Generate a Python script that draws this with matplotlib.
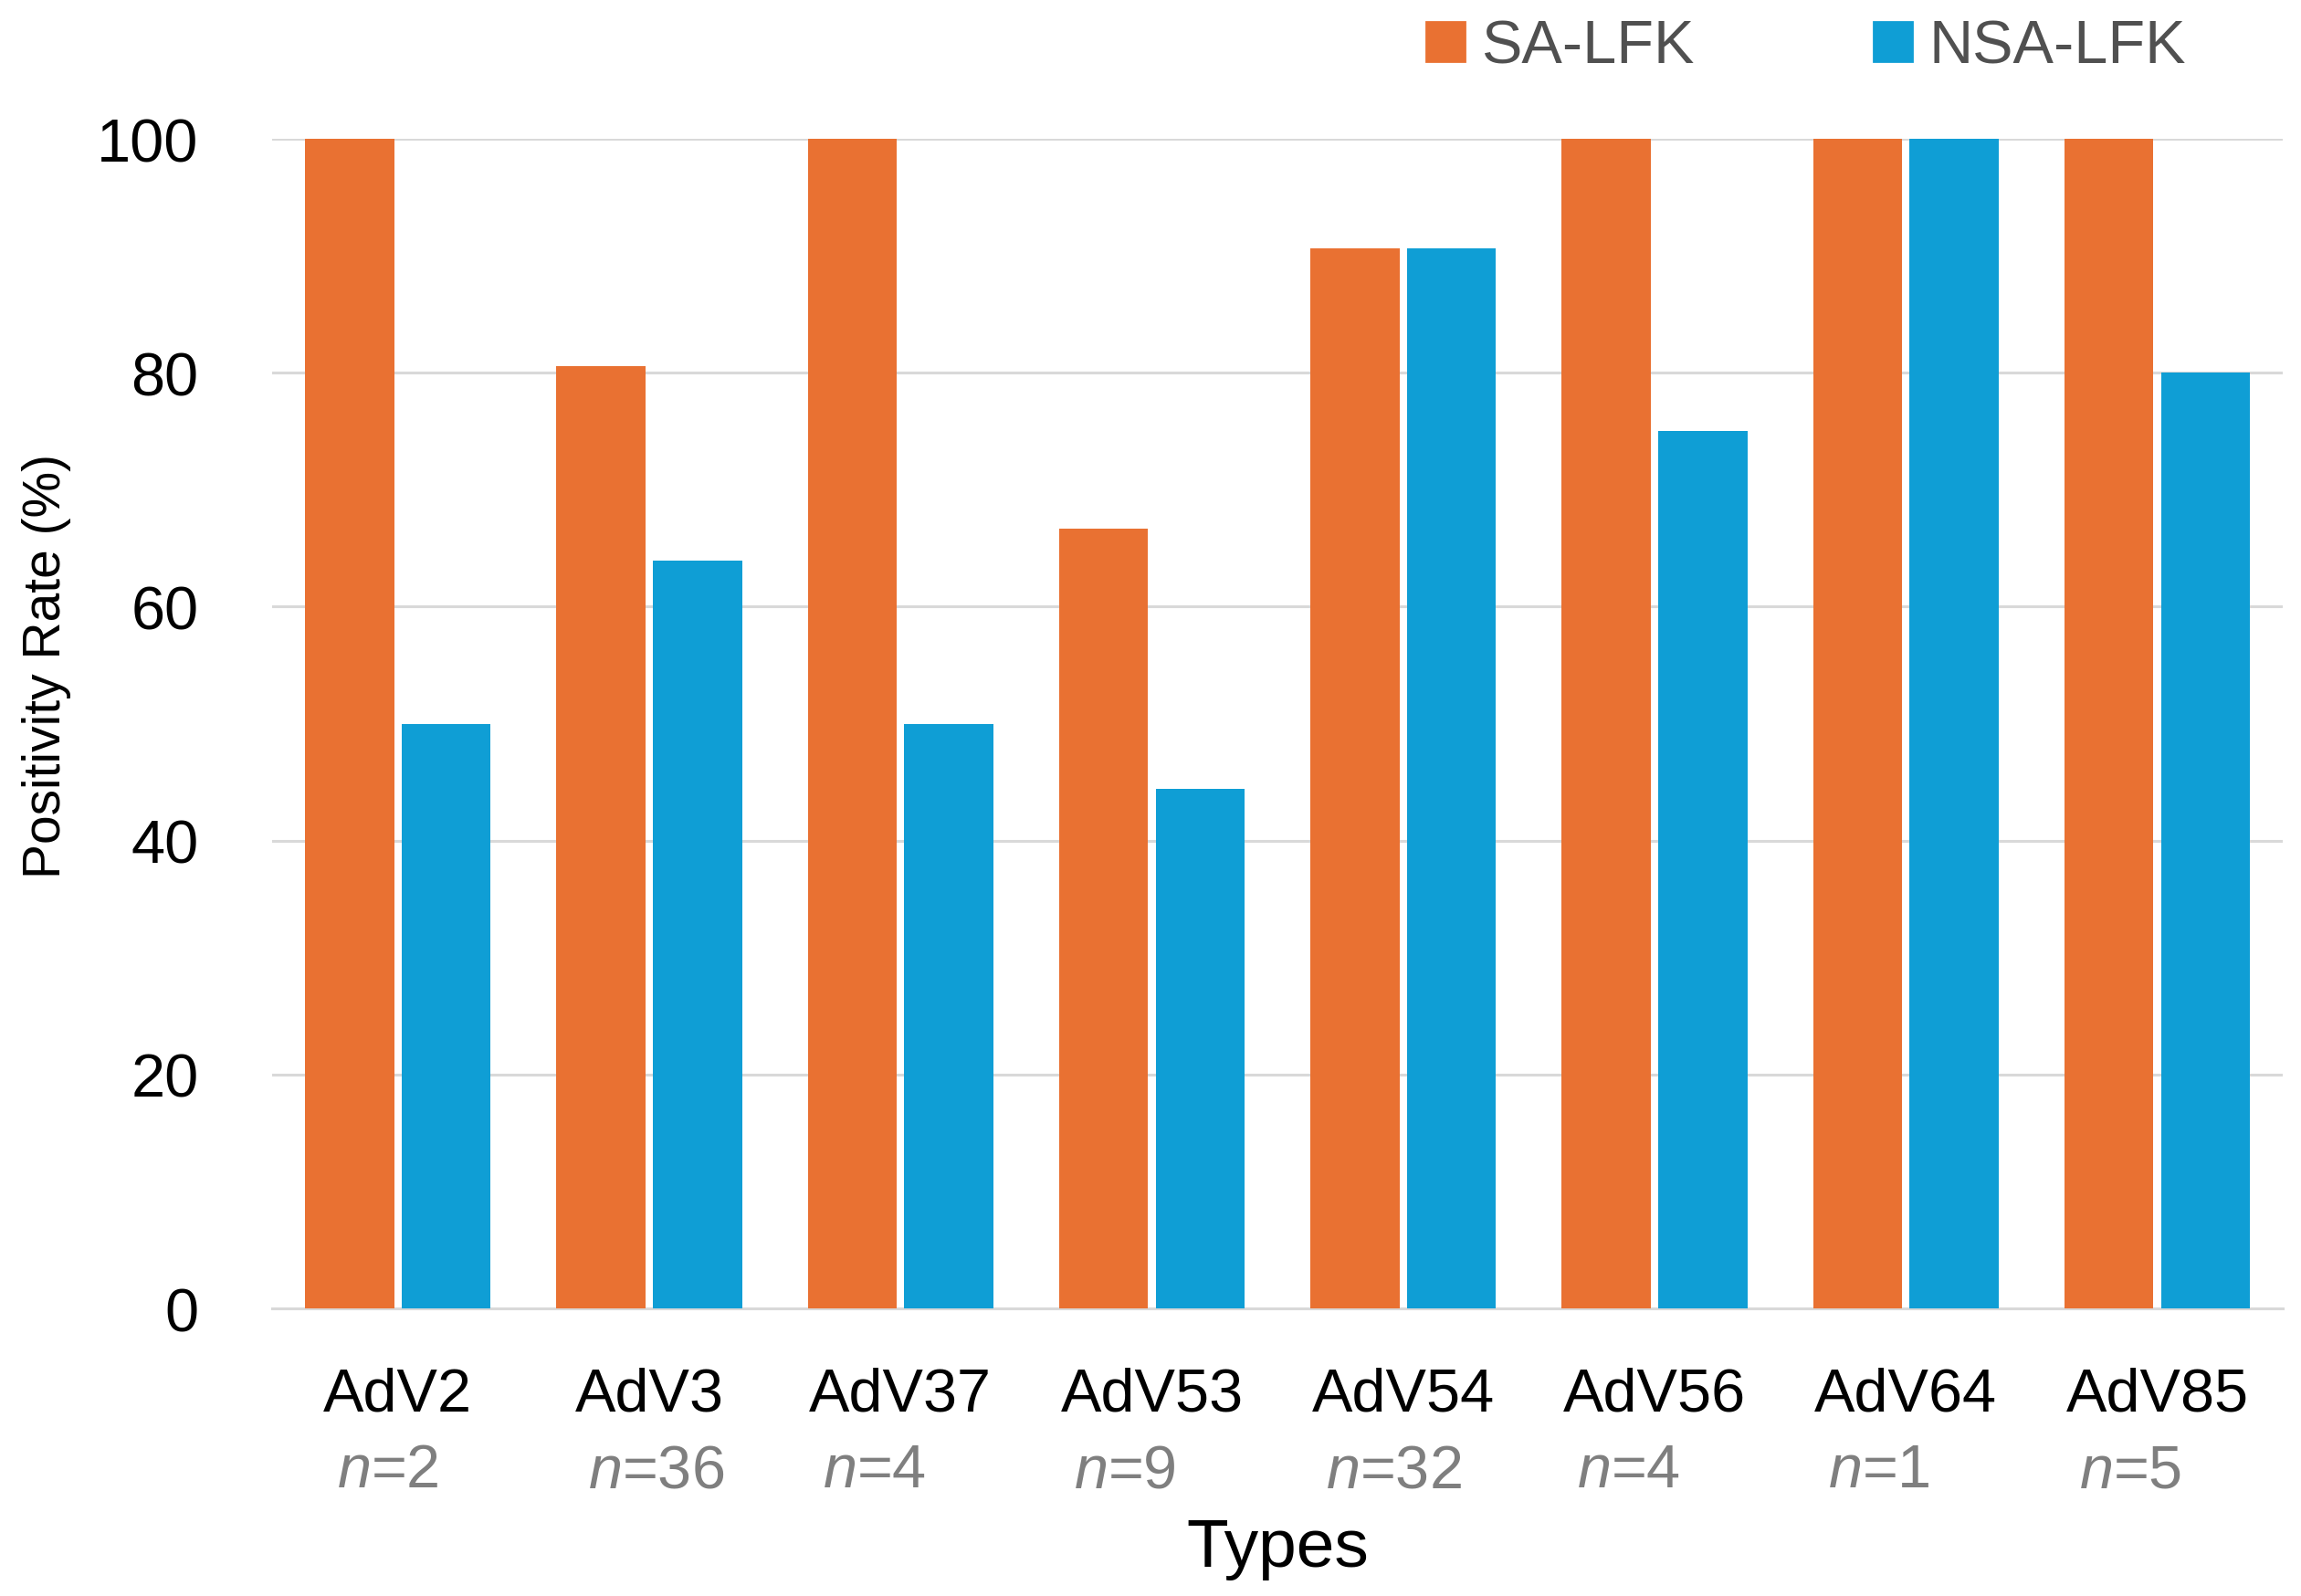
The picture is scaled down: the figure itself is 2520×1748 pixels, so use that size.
import numpy as np
import matplotlib
matplotlib.use("Agg")
import matplotlib.pyplot as plt
from matplotlib.patches import Patch

# chart values
types = ['AdV2', 'AdV3', 'AdV37', 'AdV53', 'AdV54', 'AdV56', 'AdV64', 'AdV85']
n_counts = [2, 36, 4, 9, 32, 4, 1, 5]
sa_lfk = [100, 80.6, 100, 66.7, 90.6, 100, 100, 100]
nsa_lfk = [50, 63.9, 50, 44.4, 90.6, 75, 100, 80]
y_ticks = [0, 20, 40, 60, 80, 100]

orange = '#E97132'
blue = '#0F9ED5'
grid_gray = '#D9D9D9'

plt.rcParams['font.family'] = ['Liberation Sans', 'DejaVu Sans']
plt.rcParams['mathtext.fontset'] = 'custom'
plt.rcParams['mathtext.rm'] = 'Liberation Sans'
plt.rcParams['mathtext.it'] = 'Liberation Sans:italic'

fig = plt.figure(figsize=(12.6, 8.745), dpi=200)
ax = fig.add_axes([0.1183, 0.1801, 0.8738, 0.7324])

x = np.arange(len(types))
w = 0.354
off = 0.192
ax.bar(x - off, sa_lfk, w, color=orange, zorder=3)
ax.bar(x + off, nsa_lfk, w, color=blue, zorder=3)

ax.set_xlim(-0.5, len(types) - 0.5)
ax.set_ylim(0, 100)
ax.set_yticks(y_ticks)
ax.yaxis.grid(True, color=grid_gray, lw=1.1, zorder=0)
ax.set_axisbelow(True)
for s in ['top', 'right', 'left']:
    ax.spines[s].set_visible(False)
ax.spines['bottom'].set_color(grid_gray)
ax.spines['bottom'].set_linewidth(1.1)
ax.tick_params(axis='y', length=0, pad=29, labelsize=24)
ax.tick_params(axis='x', length=0, pad=23, labelsize=24)
ax.set_xticks(x)
ax.set_xticklabels(types)

ax.set_ylabel('Positivity Rate (%)', fontsize=20.5)
ax.yaxis.set_label_coords(-0.100, 0.55)
ax.set_xlabel('Types', fontsize=27)
ax.xaxis.set_label_coords(0.5, -0.178)

# n= labels under each type, left-aligned slightly inside the type label
fig.canvas.draw()
inv = ax.transData.inverted()
for lab, n in zip(ax.get_xticklabels(), n_counts):
    bb = lab.get_window_extent()
    xd = inv.transform((bb.x0, bb.y0))[0]
    ax.annotate(r'$\mathit{n}$=' + str(n), xy=(xd, 0), xycoords=('data', 'axes fraction'),
                xytext=(5.4, -53), textcoords='offset points',
                ha='left', va='top', fontsize=24, color='#7F7F7F')

handles = [Patch(color=orange, label='SA-LFK'), Patch(color=blue, label='NSA-LFK')]
fig.legend(handles=handles, loc='center left', bbox_to_anchor=(1562 / 2520, 1 - 53 / 1749),
           ncol=2, frameon=False, fontsize=24, borderpad=0, borderaxespad=0,
           handlelength=0.63, handleheight=0.6, handletextpad=0.27, columnspacing=2.95,
           labelcolor='#505050')

fig.savefig('out.png', dpi=200)
